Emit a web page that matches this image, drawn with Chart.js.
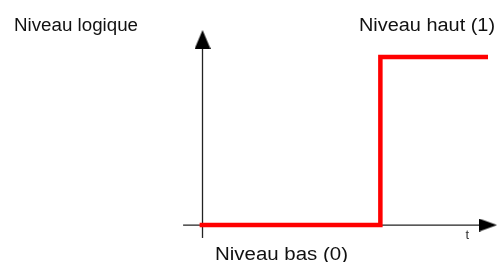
<!DOCTYPE html>
<html>
<head>
<meta charset="utf-8">
<script src="https://cdn.jsdelivr.net/npm/chart.js@4"></script>
<style>
  html, body { margin: 0; padding: 0; background: #fff; }
  #c { display: block; }
</style>
</head>
<body>
<canvas id="c" width="497" height="262"></canvas>
<script>
// ---- data ----
const signalTimes  = [-0.1, 6.23, 6.23, 10];   // t values of the logic signal
const signalLevels = [0, 0, 1, 1];               // logic level (0 = bas, 1 = haut)
const timeAxisT    = [-0.68, 10];                // extent of the t axis
const levelAxisY   = [-0.077, 1.104];            // extent of the level axis
const labelsText   = ['Niveau logique', 'Niveau haut (1)', 'Niveau bas (0)', 't'];

// arrowheads as canvas point styles
function makeArrow(w, h, dir) {
  const c = document.createElement('canvas');
  c.width = w; c.height = h;
  const g = c.getContext('2d');
  g.fillStyle = '#000';
  g.beginPath();
  if (dir === 'up') { g.moveTo(w / 2, 0); g.lineTo(w, h); g.lineTo(0, h); }
  else { g.moveTo(w, h / 2); g.lineTo(0, 0); g.lineTo(0, h); }
  g.closePath();
  g.fill();
  return c;
}
const arrowUp = makeArrow(16, 19, 'up');
const arrowRight = makeArrow(18, 13, 'right');

const signalData = signalTimes.map((t, i) => ({ x: t, y: signalLevels[i] }));
const xAxisData = timeAxisT.map(t => ({ x: t, y: 0 }));
const yAxisData = levelAxisY.map(v => ({ x: 0, y: v }));

function drawLabel(ctx, text, x, baseline, width, size, color) {
  ctx.save();
  ctx.font = size + 'px "Liberation Sans", Arial, sans-serif';
  ctx.fillStyle = color;
  ctx.textBaseline = 'alphabetic';
  const m = ctx.measureText(text).width;
  const s = width ? width / m : 1;
  ctx.translate(x, baseline);
  ctx.scale(s, 1);
  ctx.fillText(text, 0, 0);
  ctx.restore();
}

const labelPlugin = {
  id: 'labels',
  afterDatasetsDraw(chart) {
    const ctx = chart.ctx;
    drawLabel(ctx, labelsText[0], 14, 31, 124, 18, '#111');
    drawLabel(ctx, labelsText[1], 359, 31, 136, 18, '#111');
    drawLabel(ctx, labelsText[2], 215, 260, 133, 18, '#111');
    drawLabel(ctx, labelsText[3], 465.5, 238.5, 0, 13, '#333');
  }
};

new Chart(document.getElementById('c'), {
  type: 'scatter',
  data: {
    datasets: [
      {
        data: signalData,
        showLine: true,
        borderColor: '#ff0000',
        borderWidth: 4.5,
        pointRadius: 0,
        borderJoinStyle: 'miter',
        clip: false
      },
      {
        data: xAxisData,
        showLine: true,
        borderColor: '#222',
        borderWidth: 1.3,
        pointRadius: [0, 5],
        pointStyle: ['circle', arrowRight],
        clip: false
      },
      {
        data: yAxisData,
        showLine: true,
        borderColor: '#222',
        borderWidth: 1.3,
        pointRadius: [0, 5],
        pointStyle: ['circle', arrowUp],
        clip: false
      }
    ]
  },
  options: {
    responsive: false,
    animation: false,
    devicePixelRatio: 1,
    events: [],
    layout: { padding: 0, autoPadding: false },
    plugins: { legend: { display: false }, tooltip: { enabled: false } },
    scales: {
      x: { type: 'linear', display: false, min: -7.093, max: 10.315 },
      y: { type: 'linear', display: false, min: -0.220, max: 1.339 }
    }
  },
  plugins: [labelPlugin]
});
</script>
</body>
</html>
